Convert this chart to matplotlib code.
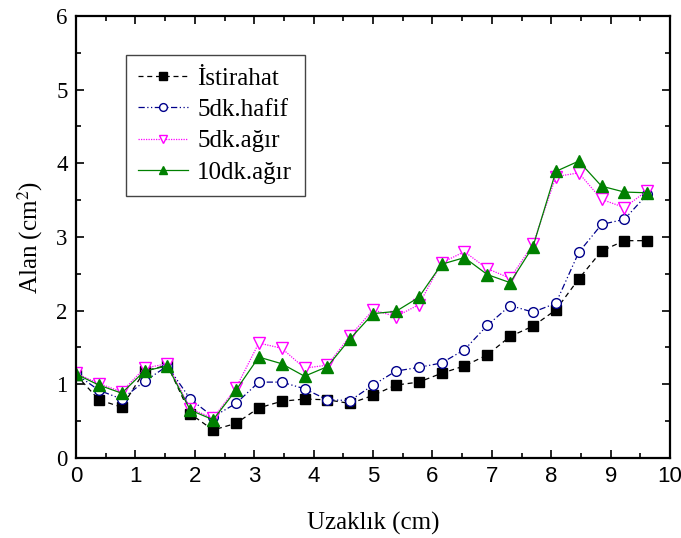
import numpy as np
import matplotlib
matplotlib.use('Agg')
import matplotlib.pyplot as plt
import matplotlib.ticker as ticker

plt.rcParams['font.family'] = 'Liberation Serif'
plt.rcParams['mathtext.fontset'] = 'stix'

# --- Datos ---
uzaklik = np.arange(26) * (10 / 26)
istirahat = [1.13, 0.79, 0.69, 1.18, 1.26, 0.60, 0.38, 0.47, 0.68, 0.77, 0.80, 0.79, 0.74,
             0.85, 0.99, 1.03, 1.15, 1.25, 1.40, 1.65, 1.79, 2.01, 2.43, 2.81, 2.95, 2.95]
hafif_5dk = [1.14, 0.92, 0.80, 1.04, 1.25, 0.80, 0.56, 0.74, 1.03, 1.03, 0.94, 0.79, 0.78,
             0.99, 1.18, 1.23, 1.29, 1.47, 1.80, 2.07, 1.98, 2.10, 2.79, 3.17, 3.24, 3.58]
agir_5dk = [1.15, 1.01, 0.90, 1.22, 1.28, 0.67, 0.54, 0.95, 1.56, 1.49, 1.22, 1.26, 1.66,
            2.01, 1.92, 2.08, 2.65, 2.80, 2.57, 2.44, 2.90, 3.82, 3.87, 3.51, 3.40, 3.63]
agir_10dk = [1.14, 0.99, 0.88, 1.18, 1.25, 0.65, 0.52, 0.92, 1.37, 1.28, 1.11, 1.24, 1.62,
             1.96, 1.99, 2.18, 2.63, 2.72, 2.49, 2.38, 2.87, 3.89, 4.03, 3.69, 3.61, 3.60]

fig = plt.figure(figsize=(6.81, 5.38), dpi=100)
ax = fig.add_axes([0.1116, 0.1487, 0.8724, 0.8216])

ax.plot(uzaklik, istirahat, color='black', linestyle=(0, (4, 3)), linewidth=0.9,
        marker='s', markersize=6.5, markerfacecolor='black', markeredgecolor='black',
        label='İstirahat')
ax.plot(uzaklik, hafif_5dk, color='#00008B', linestyle=(0, (5, 2, 1, 2, 1, 2)), linewidth=0.9,
        marker='o', markersize=7, markerfacecolor='white', markeredgecolor='#00008B',
        markeredgewidth=1.0, label='5dk.hafif')
ax.plot(uzaklik, agir_5dk, color='#FF00FF', linestyle=(0, (1, 1)), linewidth=0.9,
        marker='v', markersize=8, markerfacecolor='white', markeredgecolor='#FF00FF',
        markeredgewidth=1.0, label='5dk.ağır')
ax.plot(uzaklik, agir_10dk, color='#008000', linestyle='-', linewidth=0.9,
        marker='^', markersize=8, markerfacecolor='#008000', markeredgecolor='#008000',
        label='10dk.ağır')

ax.set_xlim(0, 10)
ax.set_ylim(0, 6)
ax.xaxis.set_major_locator(ticker.MultipleLocator(1))
ax.xaxis.set_minor_locator(ticker.MultipleLocator(0.5))
ax.yaxis.set_major_locator(ticker.MultipleLocator(1))
ax.yaxis.set_minor_locator(ticker.MultipleLocator(0.5))
ax.tick_params(which='both', direction='in', top=True, right=True, width=1.2)
ax.tick_params(which='major', length=6)
ax.tick_params(which='minor', length=3.5)
ax.tick_params(axis='y', labelsize=16.5, pad=6)
ax.tick_params(axis='x', labelsize=16, pad=6)
for lab in ax.get_xticklabels():
    lab.set_family('Liberation Sans')
for sp in ax.spines.values():
    sp.set_linewidth(1.6)

ax.set_xlabel('Uzaklık (cm)', fontsize=18, labelpad=18)
ax.set_ylabel(r'Alan (cm$^{2}$)', fontsize=18, labelpad=8)

leg = ax.legend(loc='upper left', bbox_to_anchor=(0.084, 0.912), borderaxespad=0,
                fontsize=18, fancybox=False, edgecolor='#444444', framealpha=1,
                handlelength=2.0, handletextpad=0.35, borderpad=0.5, labelspacing=0.35,
                markerscale=0.8)
leg.get_frame().set_linewidth(1.0)

fig.savefig('out.png', dpi=100)
